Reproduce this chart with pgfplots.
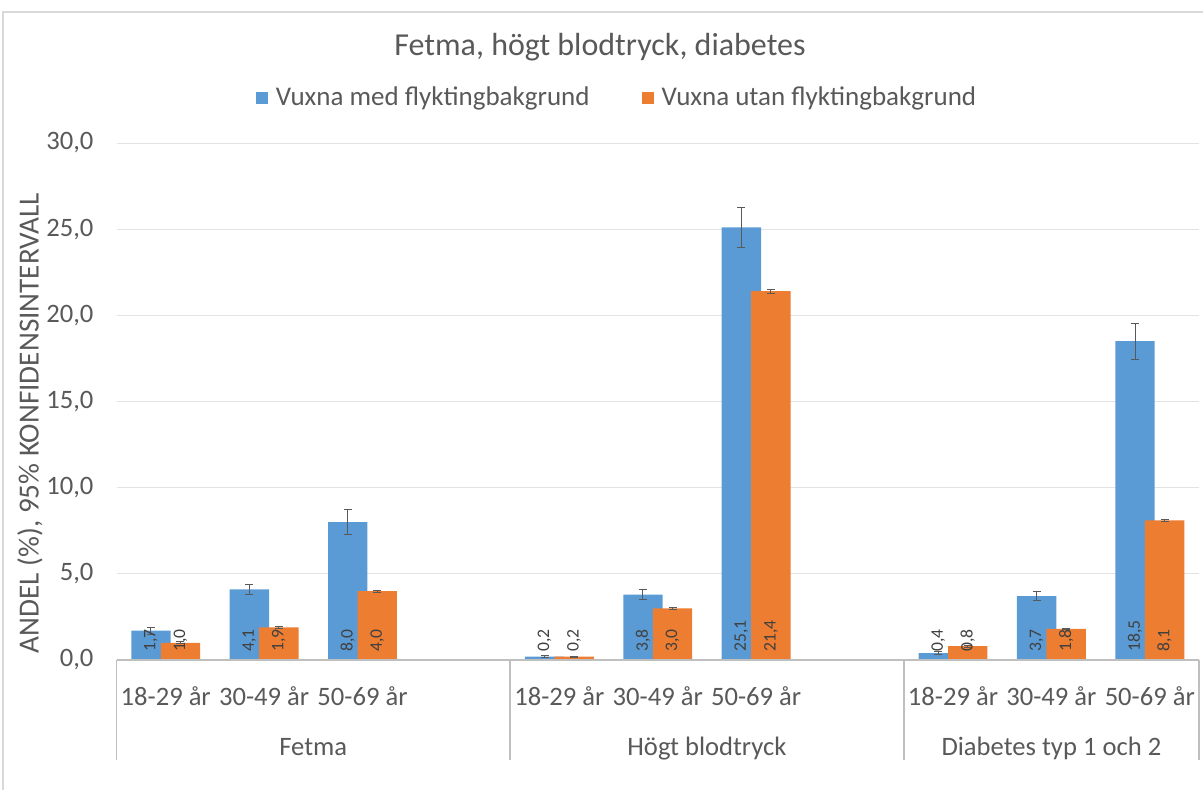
\documentclass[border=0pt]{standalone}
\usepackage{fontspec}
\setmainfont{Carlito}
\usepackage{pgfplots}
\pgfplotsset{compat=1.18}
\usepackage{pgfplotstable}
\definecolor{cblue}{HTML}{5B9BD5}
\definecolor{corange}{HTML}{ED7D31}
\definecolor{tgray}{HTML}{595959}
\definecolor{lgray}{HTML}{404040}
\definecolor{ggray}{HTML}{E3E3E3}
\definecolor{agray}{HTML}{BFBFBF}
\definecolor{fgray}{HTML}{D9D9D9}

\pgfplotstableread{
x y e
0 1.7 0.2
1 4.1 0.3
2 8.0 0.72
4 0.2 0.05
5 3.8 0.3
6 25.1 1.15
8 0.4 0.1
9 3.7 0.26
10 18.5 1.05
}\tblue

\pgfplotstableread{
x y e
0 1.0 0.05
1 1.9 0.06
2 4.0 0.06
4 0.2 0.03
5 3.0 0.06
6 21.4 0.12
8 0.8 0.05
9 1.8 0.05
10 8.1 0.07
}\torange

\begin{document}
\begin{tikzpicture}
\useasboundingbox (0pt,0pt) rectangle (601.5pt,394.5pt);
\draw[fgray, line width=0.6pt] (1.5pt,-5pt) -- (1.5pt,388.5pt) -- (610pt,388.5pt);
\node[font=\fontsize{16}{19}\selectfont, text=tgray] at (300pt,371pt) {Fetma, högt blodtryck, diabetes};
\node[rotate=90, font=\fontsize{14.6}{16}\selectfont, text=tgray] at (15pt,183pt) {ANDEL (\%), 95\% KONFIDENSINTERVALL};
\begin{axis}[
  at={(58.25pt,64.5pt)}, anchor=south west,
  scale only axis, width=541.25pt, height=258.5pt,
  xmin=-0.5, xmax=10.5, ymin=0, ymax=30,
  axis line style={draw=none},
  tick style={draw=none},
  ytick={0,5,...,30},
  ymajorgrids, major grid style={ggray, line width=0.5pt},
  xtick={0,1,2,4,5,6,8,9,10},
  xticklabels={18-29 år,30-49 år,50-69 år,18-29 år,30-49 år,50-69 år,18-29 år,30-49 år,50-69 år},
  xticklabel style={anchor=base, yshift=-22.5pt},
  yticklabel style={xshift=-8pt},
  ticklabel style={font=\fontsize{13.3}{15}\selectfont, text=tgray},
  clip=false,
  legend style={at={(0.4633,1.087)}, anchor=center, draw=none, fill=none,
    legend columns=2, font=\fontsize{13.5}{15}\selectfont, text=tgray,
    /tikz/every even column/.append style={column sep=24pt}},
  legend cell align=left,
  legend image code/.code={\fill[#1] (0pt,-3pt) rectangle (6pt,3pt); \path (8pt,0pt);},
  /pgf/number format/.cd, fixed, fixed zerofill, precision=1, use comma, assume math mode=true,
]
\addplot[ybar, bar width=0.4, bar shift=0pt, fill=cblue, draw=none,
  error bars/.cd, y dir=both, y explicit,
  error bar style={tgray, line width=0.5pt},
  error mark options={rotate=90, tgray, line width=0.5pt, mark size=2pt}]
  table[x expr=\thisrow{x}-0.15, y=y, y error=e] {\tblue};
\addlegendentry{Vuxna med flyktingbakgrund}
\addplot[ybar, bar width=0.4, bar shift=0pt, fill=corange, draw=none,
  error bars/.cd, y dir=both, y explicit,
  error bar style={tgray, line width=0.5pt},
  error mark options={rotate=90, tgray, line width=0.5pt, mark size=2pt}]
  table[x expr=\thisrow{x}+0.15, y=y, y error=e] {\torange};
\addlegendentry{Vuxna utan flyktingbakgrund}
\addplot[draw=none, forget plot, point meta=explicit,
  nodes near coords={\rotatebox{90}{\pgfmathprintnumber\pgfplotspointmeta}},
  every node near coord/.append style={font=\fontsize{8.8}{10}\selectfont, text=lgray, inner sep=0pt, anchor=south, yshift=4pt}]
  table[x expr=\thisrow{x}-0.15, y expr=0, meta=y] {\tblue};
\addplot[draw=none, forget plot, point meta=explicit,
  nodes near coords={\rotatebox{90}{\pgfmathprintnumber\pgfplotspointmeta}},
  every node near coord/.append style={font=\fontsize{8.8}{10}\selectfont, text=lgray, inner sep=0pt, anchor=south, yshift=4pt}]
  table[x expr=\thisrow{x}+0.15, y expr=0, meta=y] {\torange};
\draw[agray, line width=0.75pt] (axis cs:-0.5,0) -- (axis cs:10.5,0);
\draw[agray, line width=0.75pt] (axis cs:-0.5,0) -- ([yshift=-50pt]axis cs:-0.5,0);
\draw[agray, line width=0.75pt] (axis cs:3.5,0) -- ([yshift=-50pt]axis cs:3.5,0);
\draw[agray, line width=0.75pt] (axis cs:7.5,0) -- ([yshift=-50pt]axis cs:7.5,0);
\draw[agray, line width=0.75pt] (axis cs:10.5,0) -- ([yshift=-50pt]axis cs:10.5,0);
\node[anchor=base, font=\fontsize{13.3}{15}\selectfont, text=tgray] at ([yshift=-47.5pt]axis cs:1.5,0) {Fetma};
\node[anchor=base, font=\fontsize{13.3}{15}\selectfont, text=tgray] at ([yshift=-47.5pt]axis cs:5.5,0) {Högt blodtryck};
\node[anchor=base, font=\fontsize{13.3}{15}\selectfont, text=tgray] at ([yshift=-47.5pt]axis cs:9,0) {Diabetes typ 1 och 2};
\end{axis}
\end{tikzpicture}
\end{document}
